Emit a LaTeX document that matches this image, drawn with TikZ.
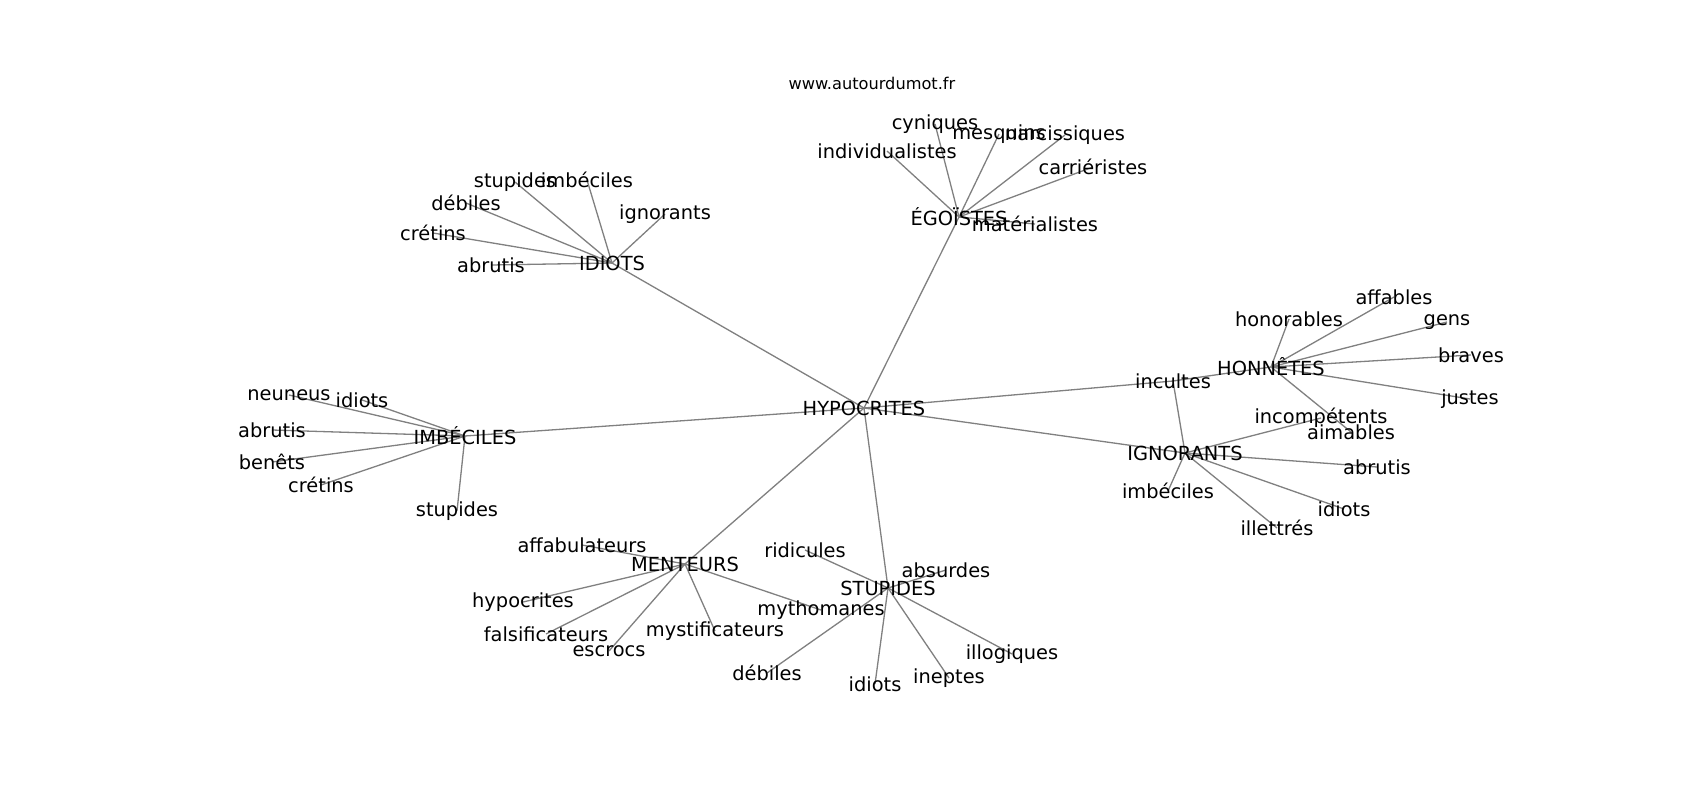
\documentclass[tikz,border=0pt]{standalone}
\usepackage{fontspec}
\setmainfont{DejaVu Sans}
\pgfdeclarelayer{paper}
\pgfdeclarelayer{edges}
\pgfsetlayers{paper,edges,main}
\definecolor{edgegray}{RGB}{128,128,128}
\tikzset{
  lbl/.style={inner sep=0pt, font=\fontsize{19.4}{23}\selectfont, text=black},
  ttl/.style={inner sep=0pt, font=\fontsize{16.2}{19}\selectfont, text=black},
  link/.style={draw=edgegray, line width=1.3pt}
}
\begin{document}
\begin{tikzpicture}[x=1pt,y=-1pt]
\begin{pgfonlayer}{paper}
\fill[white] (0,0) rectangle (1700,800);
\end{pgfonlayer}
\useasboundingbox (0,0) rectangle (1700,800);
\node[ttl] (title) at (872,83) {www.autourdumot.fr};
% hubs
\node[lbl] (hyp) at (864,408) {HYPOCRITES};
\node[lbl] (idi) at (612,263) {IDIOTS};
\node[lbl] (ego) at (959,217) {ÉGOÏSTES};
\node[lbl] (hon) at (1271,367) {HONNÊTES};
\node[lbl] (inc) at (1173,381) {incultes};
\node[lbl] (ign) at (1185,453) {IGNORANTS};
\node[lbl] (imb) at (465,436) {IMBÉCILES};
\node[lbl] (men) at (685,564) {MENTEURS};
\node[lbl] (stu) at (888,588) {STUPIDES};
% IDIOTS leaves
\node[lbl] (i1) at (515,182) {stupides};
\node[lbl] (i2) at (587,180) {imbéciles};
\node[lbl] (i3) at (466,203) {débiles};
\node[lbl] (i4) at (665,214) {ignorants};
\node[lbl] (i5) at (433,233) {crétins};
\node[lbl] (i6) at (491,265) {abrutis};
% EGOISTES leaves
\node[lbl] (e1) at (935,124) {cyniques};
\node[lbl] (e2) at (999,134) {mesquins};
\node[lbl] (e3) at (1065,135) {narcissiques};
\node[lbl] (e4) at (887,151) {individualistes};
\node[lbl] (e5) at (1093,167) {carriéristes};
\node[lbl] (e6) at (1035,224) {matérialistes};
% HONNETES leaves
\node[lbl] (h1) at (1289,319) {honorables};
\node[lbl] (h2) at (1394,297) {affables};
\node[lbl] (h3) at (1447,322) {gens};
\node[lbl] (h4) at (1471,355) {braves};
\node[lbl] (h5) at (1470,399) {justes};
\node[lbl] (h6) at (1351,432) {aimables};
% IGNORANTS leaves
\node[lbl] (g1) at (1321,418) {incompétents};
\node[lbl] (g2) at (1377,467) {abrutis};
\node[lbl] (g3) at (1168,491) {imbéciles};
\node[lbl] (g4) at (1344,509) {idiots};
\node[lbl] (g5) at (1277,528) {illettrés};
% IMBECILES leaves
\node[lbl] (m1) at (289,395) {neuneus};
\node[lbl] (m2) at (362,400) {idiots};
\node[lbl] (m3) at (272,430) {abrutis};
\node[lbl] (m4) at (272,462) {benêts};
\node[lbl] (m5) at (321,485) {crétins};
\node[lbl] (m6) at (457,511) {stupides};
% MENTEURS leaves
\node[lbl] (n1) at (582,545) {affabulateurs};
\node[lbl] (n2) at (523,602) {hypocrites};
\node[lbl] (n3) at (546,634) {falsificateurs};
\node[lbl] (n4) at (609,651) {escrocs};
\node[lbl] (n5) at (715,631) {mystificateurs};
\node[lbl] (n6) at (821,610) {mythomanes};
% STUPIDES leaves
\node[lbl] (s1) at (805,550) {ridicules};
\node[lbl] (s2) at (946,570) {absurdes};
\node[lbl] (s3) at (767,673) {débiles};
\node[lbl] (s4) at (875,684) {idiots};
\node[lbl] (s5) at (949,678) {ineptes};
\node[lbl] (s6) at (1012,654) {illogiques};
\begin{pgfonlayer}{edges}
\foreach \a/\b in {hyp/idi,hyp/ego,hyp/inc,hyp/ign,hyp/imb,hyp/men,hyp/stu,
  inc/hon,inc/ign,
  idi/i1,idi/i2,idi/i3,idi/i4,idi/i5,idi/i6,
  ego/e1,ego/e2,ego/e3,ego/e4,ego/e5,ego/e6,
  hon/h1,hon/h2,hon/h3,hon/h4,hon/h5,hon/h6,
  ign/g1,ign/g2,ign/g3,ign/g4,ign/g5,
  imb/m1,imb/m2,imb/m3,imb/m4,imb/m5,imb/m6,
  men/n1,men/n2,men/n3,men/n4,men/n5,men/n6,
  stu/s1,stu/s2,stu/s3,stu/s4,stu/s5,stu/s6}
  \draw[link] (\a.center) -- (\b.center);
\end{pgfonlayer}
\end{tikzpicture}
\end{document}
